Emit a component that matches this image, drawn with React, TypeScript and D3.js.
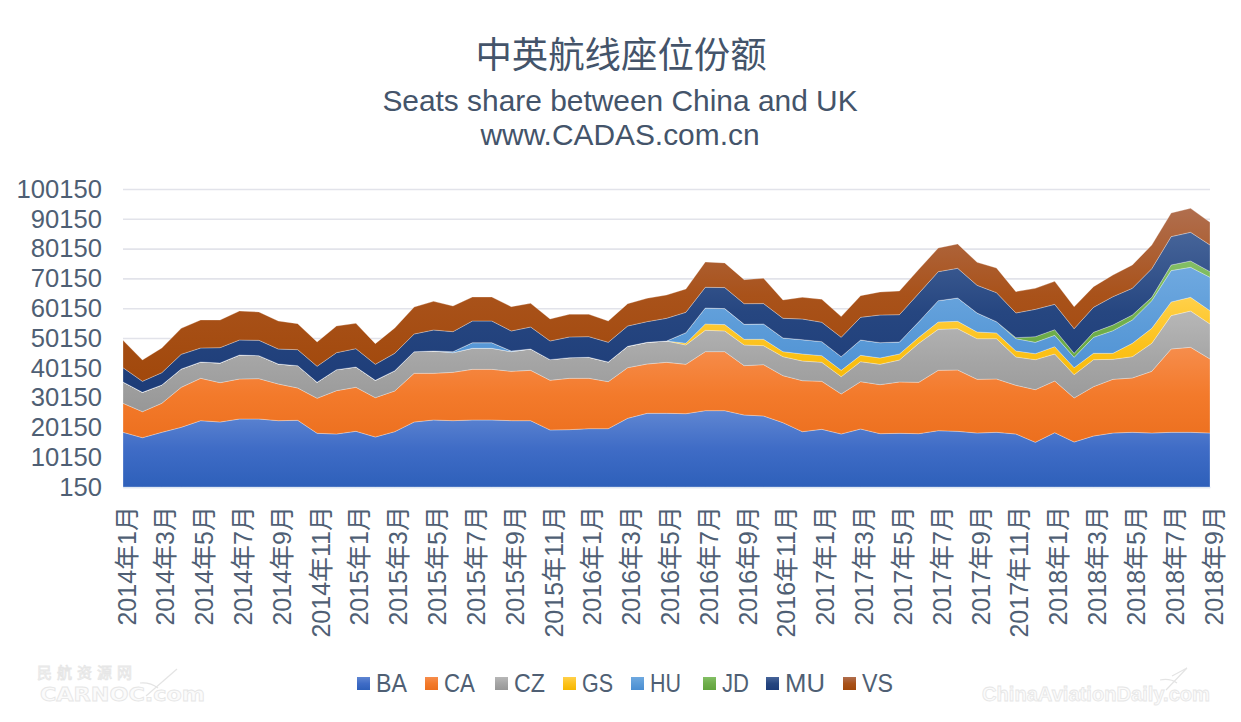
import * as d3 from 'd3'
import { useEffect, useRef } from 'react'

const months: string[] = []
for (let year = 2014; year <= 2018; year++) {
  for (let month = 1; month <= 12; month++) {
    if (year === 2018 && month > 9) break
    months.push(`${year}年${month}月`)
  }
}

const seriesKeys = ['BA', 'CA', 'CZ', 'GS', 'HU', 'JD', 'MU', 'VS']

const BA = [18500, 16700, 18500, 20170, 22410, 21960, 22970, 22970, 22410, 22520, 18160, 17940, 18830, 16930, 18720, 21960, 22630, 22410, 22630, 22630, 22410, 22410, 19280, 19390, 19730, 19730, 23190, 24870, 24870, 24760, 25770, 25770, 24310, 23980, 21740, 18720, 19500, 17940, 19610, 18050, 18160, 18050, 19050, 18830, 18270, 18500, 17940, 15140, 18380, 15250, 17260, 18270, 18500, 18270, 18500, 18500, 18270]
const CA = [9730, 8730, 9730, 13420, 14210, 13200, 13420, 13540, 12300, 10850, 11750, 14540, 14770, 13200, 13650, 16330, 15660, 16220, 17000, 17000, 16560, 16890, 16670, 17230, 16890, 15770, 17000, 16560, 17110, 16560, 19800, 19800, 16560, 17230, 15770, 17110, 16110, 13420, 15880, 16440, 17230, 17230, 20250, 20580, 18010, 17900, 16330, 17670, 17340, 14770, 16560, 18010, 18230, 20690, 27970, 28520, 24830]
const CZ = [7160, 6490, 6150, 6150, 5480, 6600, 8050, 7720, 6710, 7490, 5370, 7050, 6820, 5820, 6820, 7270, 7490, 6600, 7050, 7050, 6600, 7160, 6940, 6940, 7050, 6600, 7160, 7270, 7160, 6490, 7160, 6940, 6940, 6380, 6380, 6600, 6380, 5820, 6710, 6820, 7380, 13090, 13760, 13870, 13650, 13540, 9510, 10070, 9060, 7830, 9060, 6710, 7160, 9400, 11190, 12190, 11750]
const GS = [0, 0, 0, 0, 0, 0, 0, 0, 0, 0, 0, 0, 0, 0, 0, 0, 0, 0, 0, 0, 0, 0, 0, 0, 0, 0, 0, 0, 0, 560, 2130, 2130, 1900, 2130, 1680, 2350, 2240, 2130, 2130, 2130, 2010, 2010, 2460, 2460, 2240, 1900, 2010, 2010, 2460, 2350, 2130, 2010, 4470, 5030, 4590, 4590, 4470]
const HU = [0, 0, 0, 0, 0, 0, 0, 0, 0, 0, 0, 0, 0, 0, 0, 0, 0, 340, 1900, 1900, 220, 0, 0, 0, 0, 0, 0, 0, 0, 3580, 5370, 5370, 5030, 5150, 4590, 4810, 4700, 4590, 5150, 5150, 4030, 5260, 7160, 7830, 6380, 3800, 4140, 3800, 3800, 3470, 5370, 7610, 7830, 9280, 10510, 10070, 11190]
const JD = [0, 0, 0, 0, 0, 0, 0, 0, 0, 0, 0, 0, 0, 0, 0, 0, 0, 0, 0, 0, 0, 0, 0, 0, 0, 0, 0, 0, 0, 0, 0, 0, 0, 0, 0, 0, 0, 0, 0, 0, 0, 0, 0, 0, 0, 0, 340, 1900, 1900, 1340, 1680, 1900, 1680, 1120, 1900, 2130, 1900]
const MU = [4810, 3690, 4140, 4920, 4700, 5150, 5030, 5150, 5030, 5370, 5370, 5700, 6150, 5370, 5820, 5930, 7050, 6710, 7270, 7270, 6710, 7380, 6260, 6940, 6940, 6600, 6820, 6940, 7610, 6820, 6940, 7050, 6940, 6820, 6600, 6940, 6490, 6490, 7610, 9280, 9170, 9510, 9730, 9960, 9280, 9730, 8280, 9170, 8500, 8280, 8390, 9510, 8950, 9620, 9510, 9620, 8950]
const VS = [9170, 7160, 8280, 8730, 9400, 9280, 9730, 9510, 9400, 8730, 8170, 8950, 8500, 6940, 8500, 9060, 9620, 8610, 8050, 8050, 8170, 7940, 7380, 7610, 7490, 7160, 7490, 7830, 7830, 7830, 8500, 8280, 8050, 8500, 6150, 7270, 7720, 6940, 7270, 7720, 7940, 8050, 7940, 8170, 7720, 8280, 7160, 7050, 7720, 7380, 6940, 7270, 7830, 7940, 7940, 8050, 7610]

const yTicks = [150, 10150, 20150, 30150, 40150, 50150, 60150, 70150, 80150, 90150, 100150]

// top, middle, bottom of each series gradient
const fills: Record<string, string[]> = {
  BA: ['#5f86d2', '#3f6cc6', '#2e60ba'],
  CA: ['#f68d4c', '#f37a2b', '#ec6f1e'],
  CZ: ['#b7b7b7', '#a5a5a5', '#979797'],
  GS: ['#ffd04a', '#fcc21c', '#f5b700'],
  HU: ['#6fa9e0', '#5b9bd8', '#4a8ed2'],
  JD: ['#83bf65', '#6fae4b', '#62a43e'],
  MU: ['#466499', '#264680', '#1d3c78'],
  VS: ['#b06e4e', '#a9521a', '#a1480b'],
}

const legendX = [357, 425, 495, 563, 631, 703, 766, 843]

const textColor = '#44546a'
const width = 1241
const height = 722
const left = 123
const right = 1210
const top = 189
const bottom = 487

export default function App() {
  const axisLeftRef = useRef<SVGGElement>(null)
  const axisBottomRef = useRef<SVGGElement>(null)

  const scaleX = d3.scalePoint<string>().domain(months).range([left, right])
  const scaleY = d3.scaleLinear().domain([150, 100150]).range([bottom, top]).clamp(true)

  const table = months.map((month, i) => ({
    month,
    BA: BA[i],
    CA: CA[i],
    CZ: CZ[i],
    GS: GS[i],
    HU: HU[i],
    JD: JD[i],
    MU: MU[i],
    VS: VS[i],
  }))
  const stacked = d3.stack<any>().keys(seriesKeys)(table)
  const area = d3
    .area<any>()
    .x((d) => scaleX(d.data.month) as number)
    .y0((d) => scaleY(d[0]))
    .y1((d) => scaleY(d[1]))

  useEffect(() => {
    if (axisLeftRef.current) {
      const g = d3.select(axisLeftRef.current)
      g.call(
        d3
          .axisLeft(scaleY)
          .tickValues(yTicks)
          .tickFormat((d) => String(d))
          .tickSize(-(right - left))
          .tickPadding(21) as any,
      )
      g.select('.domain').remove()
      g.selectAll('line').attr('stroke', '#e2e3ea').attr('stroke-width', 1.6)
      g.selectAll('text')
        .attr('fill', '#4f5f74')
        .attr('font-size', 25.6)
        .attr('font-family', '"Liberation Sans", sans-serif')
    }
    if (axisBottomRef.current) {
      const g = d3.select(axisBottomRef.current)
      g.call(
        d3
          .axisBottom(scaleX)
          .tickValues(months.filter((_, i) => i % 2 === 0))
          .tickSize(0) as any,
      )
      g.select('.domain').attr('stroke', '#dce6f1').attr('stroke-width', 1.5)
      g.selectAll('text')
        .attr('fill', '#4f5f74')
        .attr('font-size', 25)
        .attr('font-family', '"Liberation Sans", "Noto Sans CJK SC", sans-serif')
        .attr('text-anchor', 'end')
        .attr('dy', null)
        .attr('y', null)
        .attr('transform', 'translate(12, 19) rotate(-90)')
    }
  }, [])

  return (
    <svg
      width={width}
      height={height}
      style={{ position: 'absolute', left: 0, top: 0, background: '#fff' }}
    >
      <defs>
        {seriesKeys.map((key) => (
          <linearGradient key={key} id={`grad-${key}`} x1="0%" x2="0%" y1="0%" y2="100%">
            <stop offset="0%" stopColor={fills[key][0]} />
            <stop offset="50%" stopColor={fills[key][1]} />
            <stop offset="100%" stopColor={fills[key][2]} />
          </linearGradient>
        ))}
      </defs>

      <text
        x={621}
        y={68}
        textAnchor="middle"
        fill={textColor}
        fontSize={36.4}
        fontFamily='"Noto Sans CJK SC", sans-serif'
      >
        中英航线座位份额
      </text>
      <text
        x={620}
        y={111}
        textAnchor="middle"
        fill={textColor}
        fontSize={29.9}
        fontFamily='"Liberation Sans", sans-serif'
      >
        Seats share between China and UK
      </text>
      <text
        x={620}
        y={145}
        textAnchor="middle"
        fill={textColor}
        fontSize={29.9}
        fontFamily='"Liberation Sans", sans-serif'
      >
        www.CADAS.com.cn
      </text>

      <g ref={axisLeftRef} transform={`translate(${left}, 0)`} />
      <g ref={axisBottomRef} transform={`translate(0, ${bottom})`} />

      {stacked.map((layer) => (
        <path
          key={layer.key}
          d={area(layer) as string}
          fill={`url(#grad-${layer.key})`}
          stroke="#ffffff"
          strokeOpacity={0.35}
          strokeWidth={0.8}
        />
      ))}

      {seriesKeys.map((key, i) => (
        <g key={key}>
          <rect
            x={legendX[i]}
            y={677}
            width={13}
            height={13}
            fill={`url(#grad-${key})`}
          />
          <text
            x={legendX[i] + 19}
            y={692}
            fill="#4f5f74"
            fontSize={25.5}
            fontFamily='"Liberation Sans", sans-serif'
            textLength={key === 'JD' ? 27 : key === 'MU' ? 40 : 31}
            lengthAdjust="spacingAndGlyphs"
          >
            {key}
          </text>
        </g>
      ))}

      {/* watermarks */}
      <g fill="#fbfbfb" stroke="#e6e6e6" strokeWidth={0.8}>
        <text x={37} y={678} fontSize={15} letterSpacing={5} fontFamily='"Noto Sans CJK SC", sans-serif'>
          民航资源网
        </text>
        <text
          x={40}
          y={701}
          fontSize={20}
          fontWeight="bold"
          fontFamily='"DejaVu Sans", sans-serif'
          textLength={165}
          lengthAdjust="spacingAndGlyphs"
        >
          CARNOC.com
        </text>
        <text
          x={982}
          y={701}
          fontSize={20}
          fontWeight="bold"
          fontFamily='"Liberation Sans", sans-serif'
          textLength={228}
          lengthAdjust="spacingAndGlyphs"
        >
          ChinaAviationDaily.com
        </text>
      </g>
      <g fill="none" stroke="#e4e4e4" strokeWidth={1.2}>
        <path d="M177 669 L146 696 M140 683 Q150 682 158 688" />
        <path d="M1187 668 L1166 690 M1160 680 Q1170 678 1177 683 M1187 668 L1172 676" />
      </g>
    </svg>
  )
}
